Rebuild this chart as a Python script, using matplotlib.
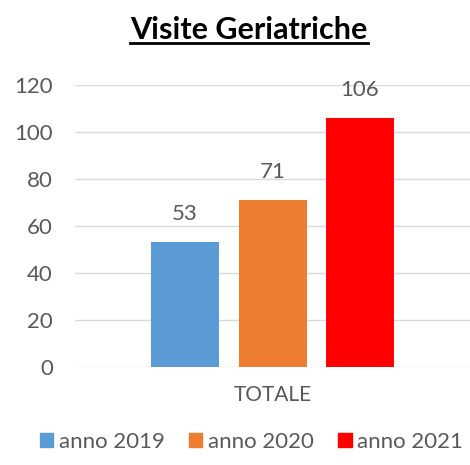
import matplotlib
matplotlib.use("Agg")
import matplotlib.pyplot as plt
from matplotlib.patches import Patch

# dati del grafico
categoria = "TOTALE"
anni = ["anno 2019", "anno 2020", "anno 2021"]
visite = [53, 71, 106]
colori = ["#5B9BD5", "#ED7D31", "#FF0000"]
y_ticks = [0, 20, 40, 60, 80, 100, 120]

plt.rcParams['font.family'] = ['Lato', 'DejaVu Sans']

fig = plt.figure(figsize=(4.7, 4.65), dpi=100)
ax = fig.add_axes([0.16, 0.211, 0.84, 0.606])

posizioni = [-1, 0, 1]
for pos, val, col, lab in zip(posizioni, visite, colori, anni):
    ax.bar(pos, val, width=0.777, color=col, label=lab, zorder=3)
    ax.text(pos, val + 12, str(val), ha='center', va='center',
            fontsize=16, color='#595959')

ax.set_xlim(-2.257, 2.257)
ax.set_ylim(0, 120)
ax.set_yticks(y_ticks)
ax.set_yticklabels([str(t) for t in y_ticks], fontsize=16, color='#595959')
ax.set_xticks([0])
ax.set_xticklabels([categoria], fontsize=15, color='#595959')
ax.tick_params(axis='both', length=0)
ax.tick_params(axis='y', pad=16)
ax.tick_params(axis='x', pad=13)
ax.grid(axis='y', color='#D9D9D9', linewidth=1, zorder=0)
for s in ax.spines.values():
    s.set_visible(False)

# titolo sottolineato
titolo = fig.text(0.53, 0.935, "Visite Geriatriche", ha='center', va='center',
                  fontsize=22, fontweight='bold', color='black')
fig.canvas.draw()
bb = titolo.get_window_extent().transformed(fig.transFigure.inverted())
fig.add_artist(plt.Line2D([bb.x0, bb.x1], [bb.y0 + 0.002, bb.y0 + 0.002],
                          color='black', linewidth=2, transform=fig.transFigure))

handles = [Patch(color=c, label=l) for c, l in zip(colori, anni)]
fig.legend(handles=handles, loc='center', bbox_to_anchor=(0.535, 0.05), ncol=3,
           frameon=False, fontsize=16, handlelength=0.6, handleheight=0.6,
           handletextpad=0.25, columnspacing=1.1, labelcolor='#595959')

fig.savefig("out.png", dpi=100)
